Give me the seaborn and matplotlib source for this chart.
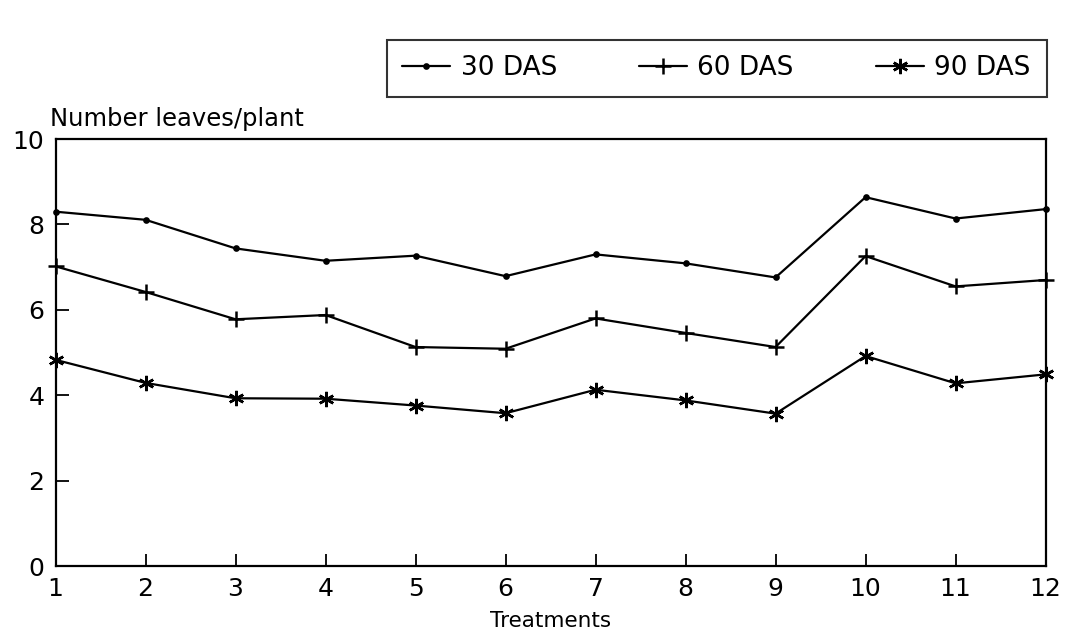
import matplotlib
matplotlib.use("Agg")
import matplotlib.pyplot as plt
import seaborn as sns
import pandas as pd

treatments = list(range(1, 13))
das30 = [8.30, 8.11, 7.44, 7.15, 7.27, 6.79, 7.30, 7.09, 6.76, 8.64, 8.14, 8.36]
das60 = [7.02, 6.42, 5.78, 5.88, 5.13, 5.09, 5.80, 5.46, 5.13, 7.26, 6.55, 6.70]
das90 = [4.83, 4.29, 3.93, 3.92, 3.76, 3.58, 4.13, 3.88, 3.57, 4.92, 4.28, 4.49]
labels = ["30 DAS", "60 DAS", "90 DAS"]

df = pd.DataFrame({"Treatments": treatments, "30 DAS": das30, "60 DAS": das60, "90 DAS": das90})

sns.set_style("ticks")
plt.rcParams['font.family'] = ['DejaVu Sans']
plt.rcParams.update({'text.color': 'black', 'axes.labelcolor': 'black',
                     'xtick.color': 'black', 'ytick.color': 'black',
                     'axes.edgecolor': 'black'})

fig = plt.figure(figsize=(10.68, 6.44), dpi=100)
ax = fig.add_axes([0.052, 0.121, 0.927, 0.663])

markers = {"30 DAS": "o", "60 DAS": "+", "90 DAS": (6, 2, 0)}
sizes = {"30 DAS": 3, "60 DAS": 12, "90 DAS": 11}
for lab in labels:
    sns.lineplot(data=df, x="Treatments", y=lab, ax=ax, color="black", lw=1.6,
                 marker=markers[lab], markersize=sizes[lab], markeredgewidth=1.8,
                 markeredgecolor="black", markerfacecolor="black",
                 label=lab, legend=False, clip_on=False, zorder=3)

ax.set_xlim(1, 12)
ax.set_ylim(0, 10)
ax.set_xticks(treatments)
ax.set_yticks([0, 2, 4, 6, 8, 10])
ax.tick_params(axis='x', direction='in', length=9, width=1.3, labelsize=18, pad=8)
ax.tick_params(axis='y', direction='in', length=9, width=1.3, labelsize=18, pad=8)
for s in ax.spines.values():
    s.set_linewidth(1.6)
    s.set_visible(True)
ax.set_xlabel("Treatments", fontsize=15.5, labelpad=7)
ax.set_ylabel("")
ax.text(-0.006, 1.02, "Number leaves/plant", transform=ax.transAxes, fontsize=17.5,
        ha='left', va='bottom')

handles, labs = ax.get_legend_handles_labels()
leg = fig.legend(handles, labs, loc='lower left', bbox_to_anchor=(0.362, 0.849, 0.618, 0.129),
                 mode='expand', ncol=3, fontsize=19, frameon=True, fancybox=False,
                 handlelength=1.8, handletextpad=0.4, borderaxespad=0, borderpad=0.6)
leg.get_frame().set_edgecolor('black')
leg.get_frame().set_linewidth(1.5)

fig.savefig("out.png", dpi=100)
plt.close()
